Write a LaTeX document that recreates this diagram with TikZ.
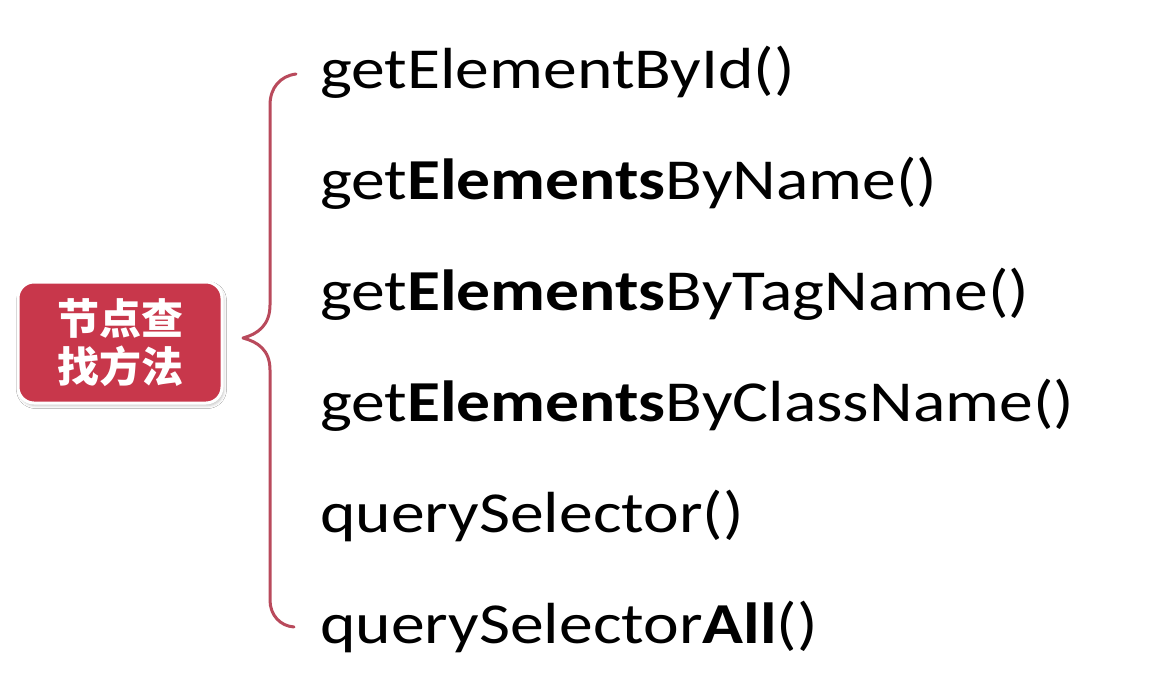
\documentclass[tikz,border=0pt]{standalone}
\usepackage{fontspec}
\setmainfont{Carlito}[FakeStretch=1.165]
\newfontfamily\cjk{Noto Sans CJK SC}
\usetikzlibrary{shadows.blur}
\definecolor{boxred}{HTML}{C8374B}
\definecolor{bracered}{HTML}{B94A5C}
\begin{document}
\begin{tikzpicture}[x=1pt,y=-1pt,
  method/.style={anchor=base west,inner sep=0pt,font=\fontsize{58}{58}\selectfont,text=black},
  titlebox/.style={rounded corners=16pt,fill=boxred,draw=white,line width=3pt,
    minimum width=204pt,minimum height=121pt,inner sep=0pt,align=center,text=white,
    font=\cjk\bfseries\fontsize{42}{48}\selectfont,
    blur shadow={shadow xshift=1.5pt,shadow yshift=-2.5pt,shadow blur radius=3pt,shadow opacity=25}},
  bracestyle/.style={draw=bracered,line width=3pt,line cap=round,line join=round}]
\useasboundingbox[fill=white] (0,0) rectangle (1160,681);
\node[titlebox] (box) at (120,342.5) {节点查\\找方法};
\node[method] (m1) at (320,88) {getElementById()};
\node[method] (m2) at (320,199) {get\textbf{Elements}ByName()};
\node[method] (m3) at (320,310) {get\textbf{Elements}ByTagName()};
\node[method] (m4) at (320,421) {get\textbf{Elements}ByClassName()};
\node[method] (m5) at (320,532) {querySelector()};
\node[method] (m6) at (320,643) {querySelector\textbf{All}()};
\coordinate (btop) at (296,74);
\coordinate (btip) at (243,338);
\coordinate (bbot) at (294,627);
\draw[bracestyle] (btop) .. controls (280,76) and (270,88) .. (270,105)
  -- (270,305) .. controls (270,325) and (258,334) .. (btip)
  .. controls (258,342) and (270,350) .. (270,370)
  -- (270,600) .. controls (270,615) and (280,626) .. (bbot);
\end{tikzpicture}
\end{document}
